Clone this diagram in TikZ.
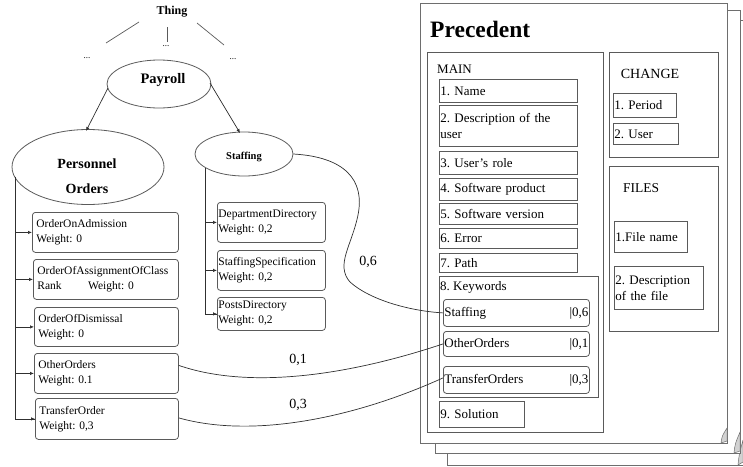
\documentclass[tikz,border=0pt]{standalone}
\usepackage{fontspec}
\setmainfont{Liberation Serif}
\frenchspacing
\usetikzlibrary{arrows.meta,calc,shapes.geometric}
\definecolor{bordc}{HTML}{5A5A5A}
\definecolor{linec}{HTML}{303030}
\definecolor{pagec}{HTML}{6E6E6E}
\tikzset{
  lbox/.style={draw=bordc, line width=0.8pt, rounded corners=3pt, anchor=north west, align=left,
    inner sep=3pt, font=\fontsize{11.5}{15}\selectfont},
  rbox/.style={draw=bordc, line width=0.8pt, anchor=north west, align=left,
    inner sep=1pt, font=\fontsize{13}{16}\selectfont},
  kbox/.style={rbox, rounded corners=3pt},
  grp/.style={draw=bordc, line width=0.8pt, anchor=north west, inner sep=0pt},
  ell/.style={draw=bordc, line width=0.8pt, ellipse, inner sep=0pt},
  page/.style={draw=pagec, line width=0.8pt, fill=white},
  curl/.style={draw=pagec, fill=gray!35, line width=0.5pt},
  conn/.style={draw=linec, line width=0.7pt},
  arr/.style={conn, -{Latex[length=4pt,width=3.5pt]}},
  wlab/.style={font=\fontsize{14}{16}\selectfont, inner sep=0pt},
  glab/.style={font=\fontsize{13.5}{15}\selectfont, inner sep=0pt},
  bold/.style={font=\fontsize{12}{14}\selectfont\bfseries, inner sep=0pt},
  dots/.style={font=\fontsize{9}{10}\selectfont, inner sep=0pt}
}
\begin{document}
\begin{tikzpicture}[x=1pt,y=-1pt]
\useasboundingbox (0,0) rectangle (743,466);

% ---------- left ontology ----------
\node[bold] (thing) at (172,12) {Thing};
\node[dots] (d1) at (87,58) {...};
\node[dots] (d2) at (166,46) {...};
\node[dots] (d3) at (233,59) {...};
\coordinate (t1) at (139,22); \coordinate (t1e) at (106,43);
\coordinate (t2) at (167,27); \coordinate (t2e) at (167,42);
\coordinate (t3) at (197,23); \coordinate (t3e) at (224,45);
\draw[conn,draw=bordc] (t1) -- (t1e);
\draw[conn,draw=bordc] (t2) -- (t2e);
\draw[conn,draw=bordc] (t3) -- (t3e);

\node[ell, minimum width=104pt, minimum height=48pt] (payroll) at (159,84) {};
\node[bold, font=\fontsize{14.5}{16}\selectfont\bfseries] (payrolltxt) at (163,80) {Payroll};

\node[ell, minimum width=152pt, minimum height=75pt] (po) at (88,167) {};
\node[font=\fontsize{14}{25}\selectfont\bfseries, align=center, inner sep=0pt] (potxt) at (87,176) {Personnel\\Orders};

\node[ell, minimum width=98pt, minimum height=44pt] (st) at (244,154) {};
\node[font=\fontsize{10.5}{12}\selectfont\bfseries, inner sep=0pt] (sttxt) at (244,157) {Staffing};

\coordinate (pl) at (108,88); \coordinate (pr) at (210,83);
\draw[arr] (pl) -- (86,131);
\draw[arr] (pr) -- (240,133);

% personnel orders boxes
\node[lbox, minimum width=146pt, minimum height=40pt, text width=138pt, inner sep=4pt] (b1) at (32,212) {OrderOnAdmission\\Weight: 0};
\node[lbox, minimum width=145pt, minimum height=40pt, text width=137pt, inner sep=4pt] (b2) at (33,259) {OrderOfAssignmentOfClass\\Rank\hspace{2.3em}Weight: 0};
\node[lbox, minimum width=144pt, minimum height=39pt, text width=136pt, inner sep=4pt] (b3) at (34,307) {OrderOfDismissal\\Weight: 0};
\node[lbox, minimum width=144pt, minimum height=40pt, text width=136pt, inner sep=4pt] (b4) at (34,353) {OtherOrders\\Weight: 0.1};
\node[lbox, minimum width=143pt, minimum height=41pt, text width=135pt, inner sep=4pt] (b5) at (35,398) {TransferOrder\\Weight: 0,3};

\coordinate (ptrunk) at (15,177);
\draw[conn] (ptrunk) |- (b5.west);
\draw[arr] (b5.west -| ptrunk) -- (b5.west);
\draw[arr] (b1.west -| ptrunk) -- (b1.west);
\draw[arr] (b2.west -| ptrunk) -- (b2.west);
\draw[arr] (b3.west -| ptrunk) -- (b3.west);
\draw[arr] (b4.west -| ptrunk) -- (b4.west);

% staffing boxes
\node[lbox, minimum width=108pt, minimum height=40pt, text width=106pt, inner sep=1pt] (s1) at (217,202) {DepartmentDirectory\\Weight: 0,2};
\node[lbox, minimum width=108pt, minimum height=40pt, text width=106pt, inner sep=1pt] (s2) at (217,250) {StaffingSpecification\\Weight: 0,2};
\node[lbox, minimum width=108pt, minimum height=33pt, text width=106pt, inner sep=1pt] (s3) at (217,297) {PostsDirectory\\Weight: 0,2};

\coordinate (strunk) at (205,168);
\draw[conn] (strunk) |- (s3.west);
\draw[arr] (s1.west -| strunk) -- (s1.west);
\draw[arr] (s2.west -| strunk) -- (s2.west);
\draw[arr] (s3.west -| strunk) -- (s3.west);

% ---------- precedent pages ----------
\draw[page] (447,20) rectangle (752,465);
\draw[curl] (743,440) -- (743,462) -- (738,465) .. controls (739,455) .. (743,440);
\draw[page] (435,10) rectangle (740,453);
\draw[curl] (740,432) -- (740,451) -- (734,453) .. controls (735,444) .. (740,432);
\node[page, anchor=north west, minimum width=307pt, minimum height=440pt, inner sep=0pt] (front) at (420,3) {};
\draw[curl] (727,428) -- (727,441) -- (721,443) .. controls (722,436) .. (727,428);

\node[font=\fontsize{23.5}{26}\selectfont\bfseries, anchor=west, inner sep=0pt] (prec) at (430,29) {Precedent};

% MAIN
\node[grp, minimum width=176pt, minimum height=380pt] (main) at (427,52) {};
\node[glab, font=\fontsize{13}{15}\selectfont, anchor=west] (mainlab) at (437,69) {MAIN};
\node[rbox, minimum width=138pt, minimum height=23pt, text width=136pt] (n1) at (439,79) {1. Name};
\node[rbox, minimum width=138pt, minimum height=41pt, text width=136pt] (n2) at (439,105) {2. Description of the\\user};
\node[rbox, minimum width=138pt, minimum height=23pt, text width=136pt] (n3) at (439,151) {3. User's role};
\node[rbox, minimum width=138pt, minimum height=22pt, text width=136pt] (n4) at (439,178) {4. Software product};
\node[rbox, minimum width=138pt, minimum height=21pt, text width=136pt] (n5) at (439,203) {5. Software version};
\node[rbox, minimum width=138pt, minimum height=20pt, text width=136pt] (n6) at (439,228) {6. Error};
\node[rbox, minimum width=138pt, minimum height=19pt, text width=136pt] (n7) at (439,253) {7. Path};
\node[grp, minimum width=159pt, minimum height=121pt] (kw) at (439,276) {};
\node[glab, font=\fontsize{13}{15}\selectfont, anchor=west] (kwlab) at (440,287) {8. Keywords};
\node[kbox, minimum width=146pt, minimum height=27pt, text width=144pt] (k1) at (443,299) {Staffing\hfill|0,6\hspace{2pt}};
\node[kbox, minimum width=146pt, minimum height=25pt, text width=144pt] (k2) at (443,331) {OtherOrders\hfill|0,1\hspace{2pt}};
\node[kbox, minimum width=146pt, minimum height=27pt, text width=144pt] (k3) at (443,366) {TransferOrders\hfill|0,3\hspace{2pt}};
\node[rbox, minimum width=85pt, minimum height=26pt, text width=83pt] (n9) at (439,401) {9. Solution};

% CHANGE
\node[grp, minimum width=109pt, minimum height=105pt] (change) at (609,52) {};
\node[glab, font=\fontsize{14}{16}\selectfont] (chlab) at (650,74) {CHANGE};
\node[rbox, minimum width=63pt, minimum height=24pt, text width=61pt] (c1) at (613,93) {1. Period};
\node[rbox, minimum width=65pt, minimum height=21pt, text width=63pt] (c2) at (613,123) {2. User};

% FILES
\node[grp, minimum width=109pt, minimum height=165pt] (files) at (609,166) {};
\node[glab] (fllab) at (641,188) {FILES};
\node[rbox, minimum width=73pt, minimum height=31pt, text width=71pt] (f1) at (614,221) {1.File name};
\node[rbox, minimum width=89pt, minimum height=43pt, text width=87pt] (f2) at (614,266) {2. Description\\of the file};

% ---------- weighted links ----------
\draw[conn] (st.east) .. controls (345,157) and (365,180) .. (358,215)
  .. controls (352,245) and (335,265) .. (350,282)
  .. controls (370,300) and (410,311) .. (k1.west);
\draw[conn] ($(b4.east)+(0,-8)$) .. controls (250,390) and (350,375) .. (k2.west);
\draw[conn] ($(b5.east)+(0,-1)$) .. controls (250,438) and (350,420) .. ($(k3.west)+(0,-2)$);
\node[wlab] (w6) at (368,262) {0,6};
\node[wlab] (w1) at (298,360) {0,1};
\node[wlab] (w3) at (298,405) {0,3};
\end{tikzpicture}
\end{document}
